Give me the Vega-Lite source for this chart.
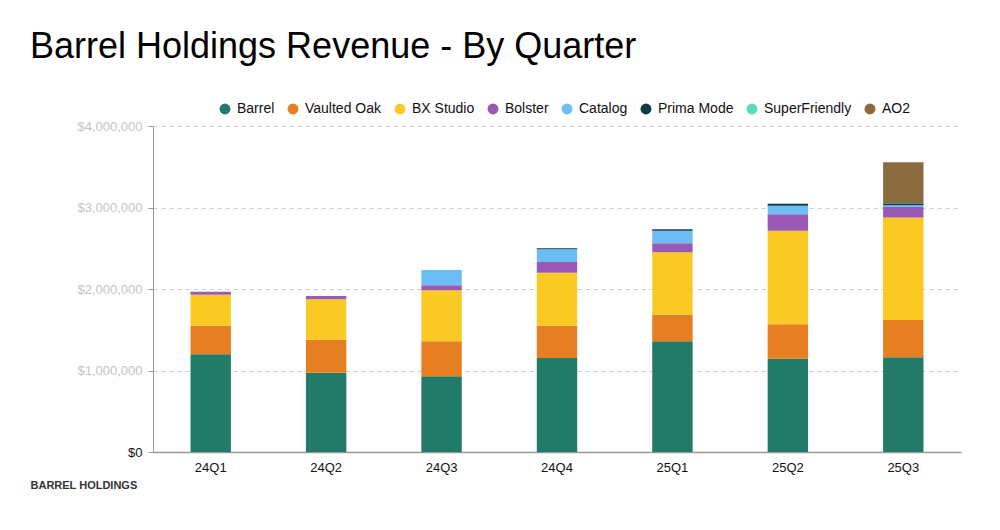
{
  "$schema": "https://vega.github.io/schema/vega-lite/v6.json",
  "autosize": {"type": "none"},
  "width": 808,
  "height": 326,
  "padding": {"left": 153, "top": 126, "right": 39, "bottom": 78},
  "background": "white",
  "title": {
    "text": "Barrel Holdings Revenue - By Quarter",
    "anchor": "start",
    "frame": "group",
    "dx": -123,
    "font": "Liberation Sans",
    "fontSize": 36,
    "fontWeight": "normal",
    "color": "#000000",
    "offset": 36
  },
  "config": {
    "view": {"stroke": null},
    "font": "Liberation Sans"
  },
  "datasets": {
    "brands": [
      {"brand": "Barrel", "stackOrder": 1},
      {"brand": "Vaulted Oak", "stackOrder": 2},
      {"brand": "BX Studio", "stackOrder": 3},
      {"brand": "Bolster", "stackOrder": 4},
      {"brand": "Catalog", "stackOrder": 5},
      {"brand": "Prima Mode", "stackOrder": 6},
      {"brand": "SuperFriendly", "stackOrder": 7},
      {"brand": "AO2", "stackOrder": 8}
    ]
  },
  "data": {
    "values": [
      {"quarter": "24Q1", "brand": "Barrel", "revenue": 1200000},
      {"quarter": "24Q1", "brand": "Vaulted Oak", "revenue": 350000},
      {"quarter": "24Q1", "brand": "BX Studio", "revenue": 380000},
      {"quarter": "24Q1", "brand": "Bolster", "revenue": 37000},
      {"quarter": "24Q2", "brand": "Barrel", "revenue": 973000},
      {"quarter": "24Q2", "brand": "Vaulted Oak", "revenue": 405000},
      {"quarter": "24Q2", "brand": "BX Studio", "revenue": 495000},
      {"quarter": "24Q2", "brand": "Bolster", "revenue": 40000},
      {"quarter": "24Q3", "brand": "Barrel", "revenue": 929000},
      {"quarter": "24Q3", "brand": "Vaulted Oak", "revenue": 429000},
      {"quarter": "24Q3", "brand": "BX Studio", "revenue": 626000},
      {"quarter": "24Q3", "brand": "Bolster", "revenue": 61000},
      {"quarter": "24Q3", "brand": "Catalog", "revenue": 188000},
      {"quarter": "24Q4", "brand": "Barrel", "revenue": 1153000},
      {"quarter": "24Q4", "brand": "Vaulted Oak", "revenue": 397000},
      {"quarter": "24Q4", "brand": "BX Studio", "revenue": 650000},
      {"quarter": "24Q4", "brand": "Bolster", "revenue": 131000},
      {"quarter": "24Q4", "brand": "Catalog", "revenue": 156000},
      {"quarter": "24Q4", "brand": "Prima Mode", "revenue": 12000},
      {"quarter": "25Q1", "brand": "Barrel", "revenue": 1358000},
      {"quarter": "25Q1", "brand": "Vaulted Oak", "revenue": 327000},
      {"quarter": "25Q1", "brand": "BX Studio", "revenue": 765000},
      {"quarter": "25Q1", "brand": "Bolster", "revenue": 110000},
      {"quarter": "25Q1", "brand": "Catalog", "revenue": 155000},
      {"quarter": "25Q1", "brand": "Prima Mode", "revenue": 17000},
      {"quarter": "25Q2", "brand": "Barrel", "revenue": 1145000},
      {"quarter": "25Q2", "brand": "Vaulted Oak", "revenue": 422000},
      {"quarter": "25Q2", "brand": "BX Studio", "revenue": 1148000},
      {"quarter": "25Q2", "brand": "Bolster", "revenue": 201000},
      {"quarter": "25Q2", "brand": "Catalog", "revenue": 106000},
      {"quarter": "25Q2", "brand": "Prima Mode", "revenue": 25000},
      {"quarter": "25Q2", "brand": "SuperFriendly", "revenue": 3000},
      {"quarter": "25Q3", "brand": "Barrel", "revenue": 1162000},
      {"quarter": "25Q3", "brand": "Vaulted Oak", "revenue": 458000},
      {"quarter": "25Q3", "brand": "BX Studio", "revenue": 1258000},
      {"quarter": "25Q3", "brand": "Bolster", "revenue": 127000},
      {"quarter": "25Q3", "brand": "Catalog", "revenue": 22000},
      {"quarter": "25Q3", "brand": "Prima Mode", "revenue": 25000},
      {"quarter": "25Q3", "brand": "SuperFriendly", "revenue": 3000},
      {"quarter": "25Q3", "brand": "AO2", "revenue": 500000}
    ]
  },
  "transform": [
    {"lookup": "brand", "from": {"data": {"name": "brands"}, "key": "brand", "fields": ["stackOrder"]}}
  ],
  "mark": {"type": "bar"},
  "encoding": {
    "x": {
      "field": "quarter",
      "type": "nominal",
      "sort": null,
      "scale": {"paddingInner": 0.65, "paddingOuter": 0.325},
      "axis": {
        "title": "BARREL HOLDINGS",
        "titleAnchor": "start",
        "titleAlign": "left",
        "titleX": -123,
        "titleY": 33,
        "titleBaseline": "middle",
        "titleFont": "Liberation Sans",
        "titleFontSize": 11,
        "titleFontWeight": "bold",
        "titleColor": "#333333",
        "labelAngle": 0,
        "labelFont": "Liberation Sans",
        "labelFontSize": 13,
        "labelColor": "#111111",
        "labelPadding": 9,
        "ticks": false,
        "domainColor": "#999999",
        "domainWidth": 1.5
      }
    },
    "y": {
      "field": "revenue",
      "type": "quantitative",
      "stack": "zero",
      "scale": {"domain": [0, 4000000], "nice": false},
      "axis": {
        "title": null,
        "values": [0, 1000000, 2000000, 3000000, 4000000],
        "format": "$,.0f",
        "labelFont": "Liberation Sans",
        "labelFontSize": 13,
        "labelColor": {"expr": "datum.value == 0 ? '#111111' : '#c4c4c4'"},
        "labelPadding": 6,
        "tickColor": "#999999",
        "tickSize": 5,
        "domainColor": "#999999",
        "grid": true,
        "gridColor": "#cccccc",
        "gridDash": [4, 4],
        "gridWidth": 1
      }
    },
    "order": {"field": "stackOrder", "type": "quantitative", "sort": "ascending"},
    "color": {
      "field": "brand",
      "type": "nominal",
      "scale": {
        "domain": ["Barrel", "Vaulted Oak", "BX Studio", "Bolster", "Catalog", "Prima Mode", "SuperFriendly", "AO2"],
        "range": ["#217b68", "#e67e22", "#fac924", "#9b59b6", "#6cbdf5", "#0f3d46", "#5ddbb7", "#8b6b3d"]
      },
      "legend": {
        "title": null,
        "orient": "none",
        "direction": "horizontal",
        "legendX": 65,
        "legendY": -24,
        "symbolType": "circle",
        "symbolSize": 120,
        "symbolStrokeWidth": 0,
        "labelFont": "Liberation Sans",
        "labelFontSize": 14,
        "labelColor": "#111111",
        "labelOffset": 5,
        "columnPadding": 11
      }
    }
  }
}
